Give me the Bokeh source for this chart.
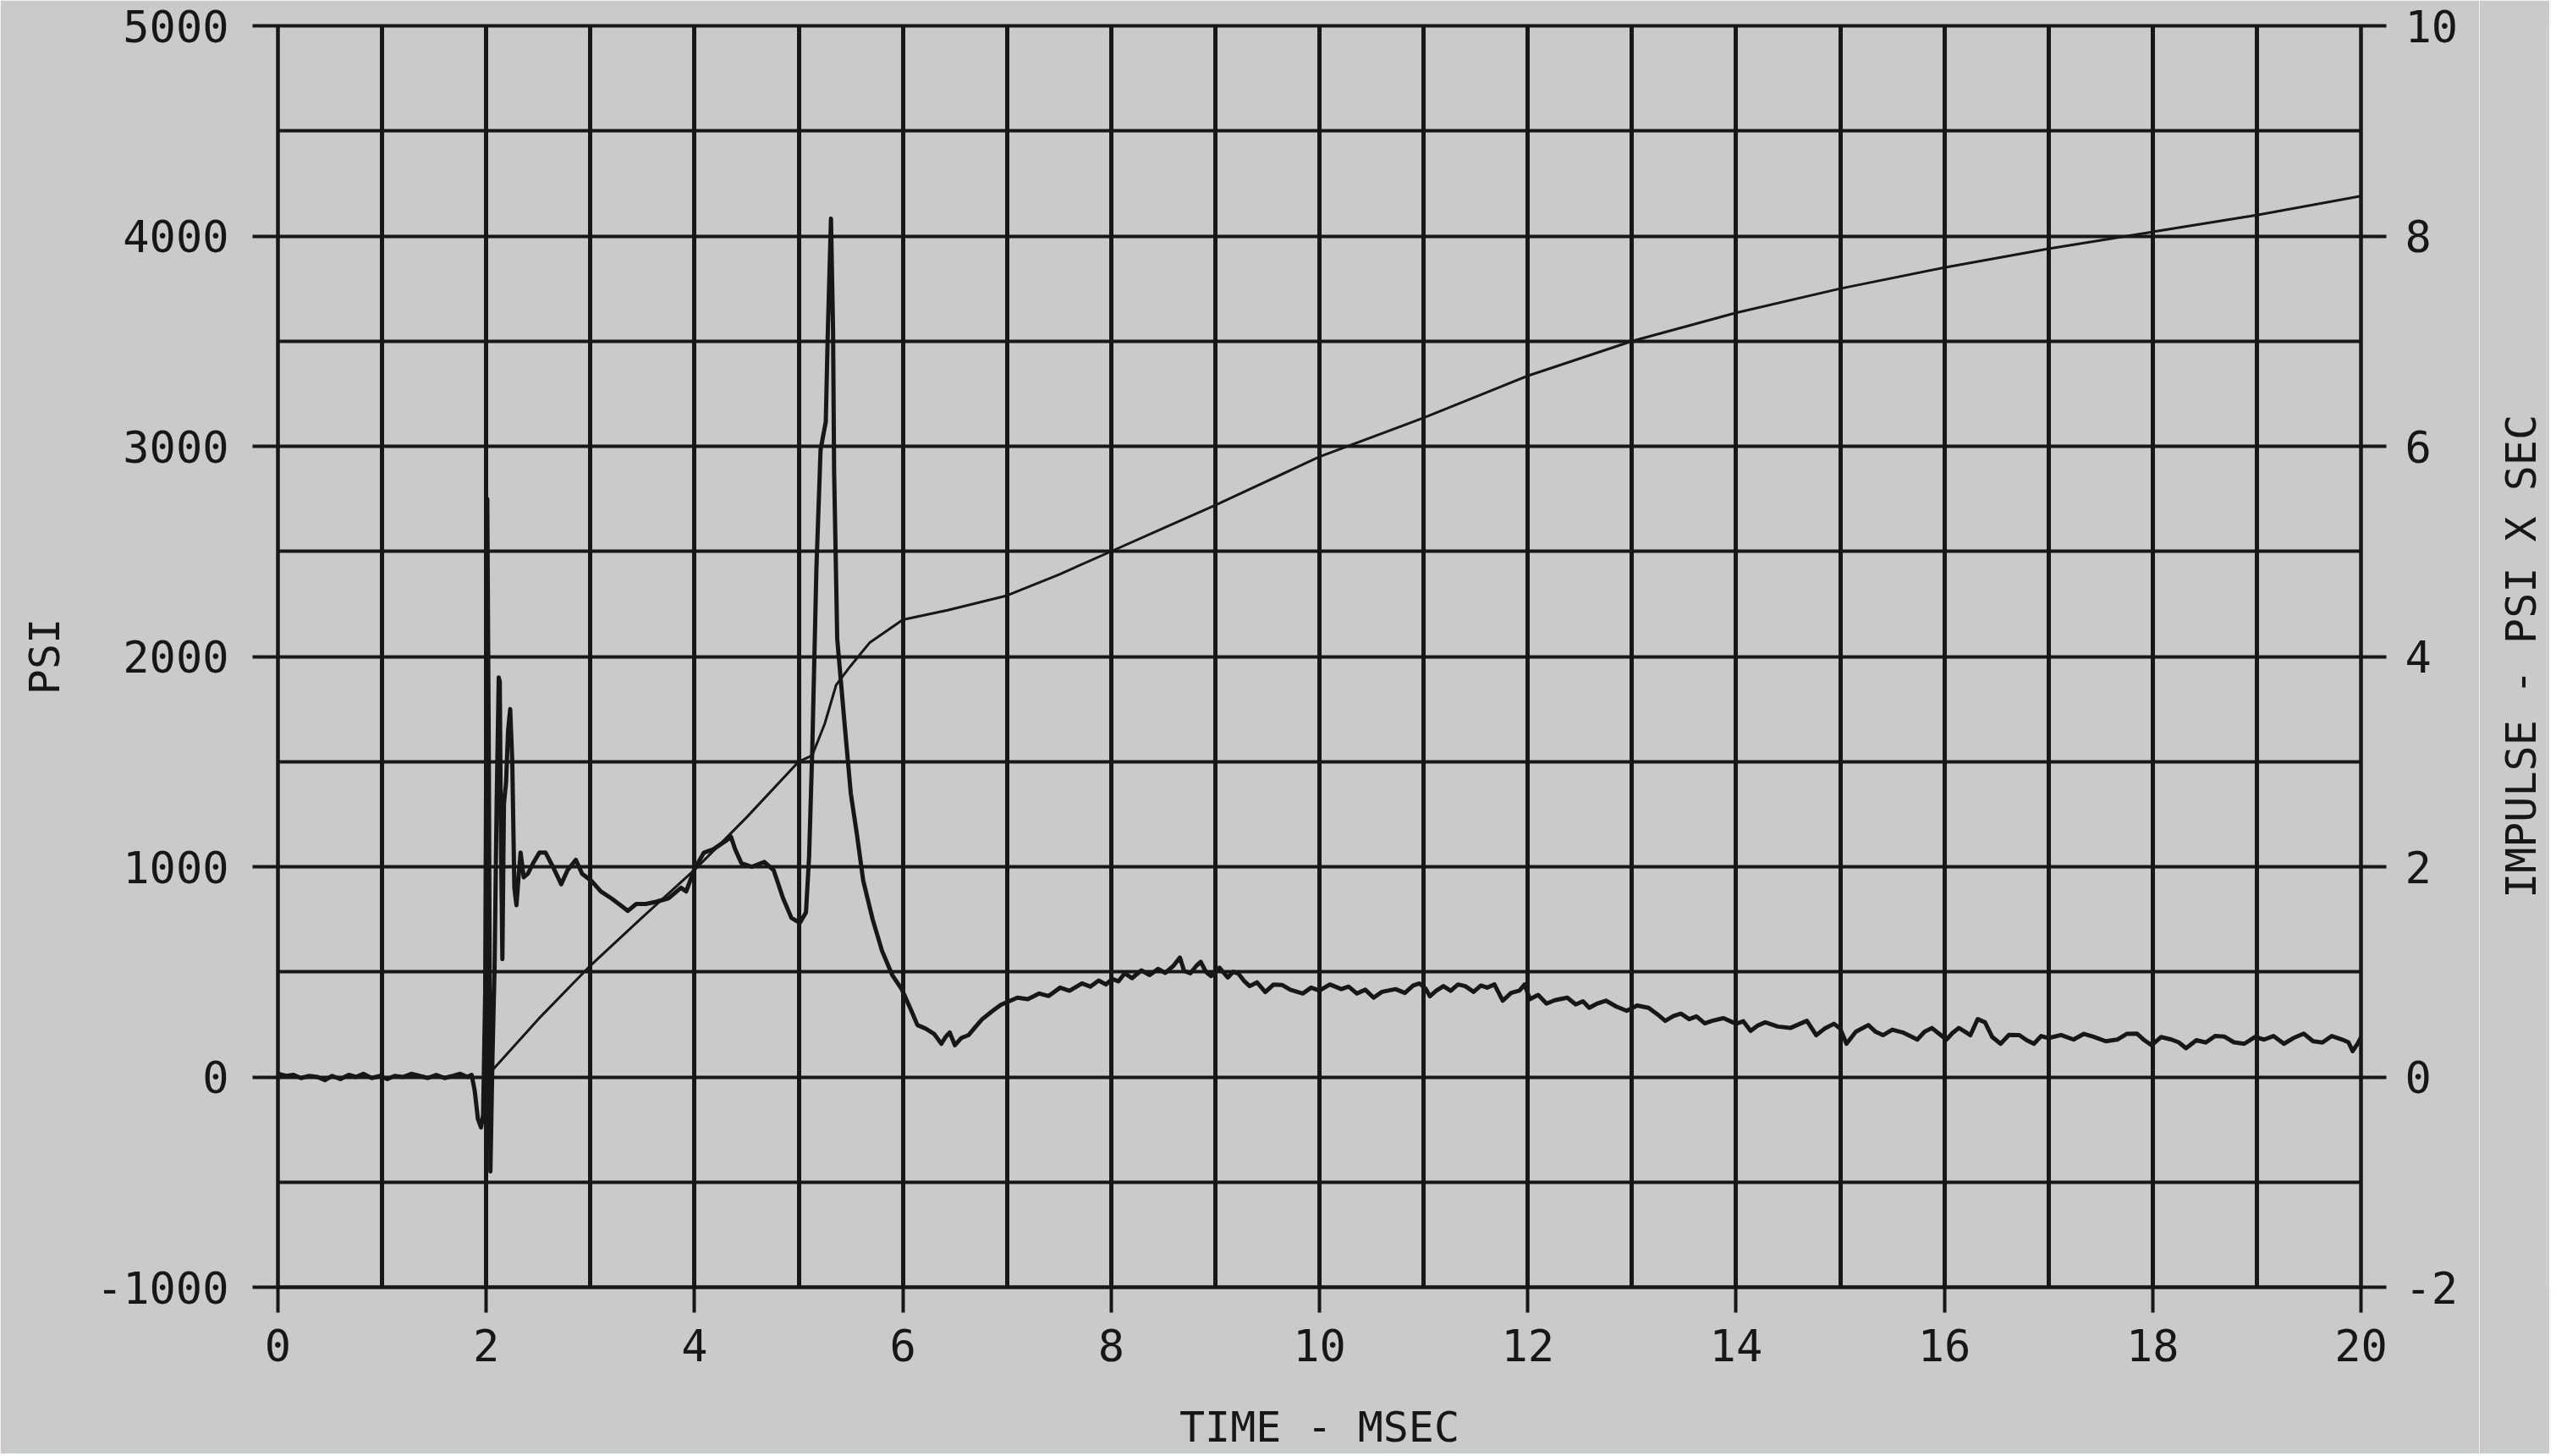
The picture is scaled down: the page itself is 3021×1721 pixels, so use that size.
from bokeh.plotting import figure
from bokeh.layouts import row
from bokeh.models import Range1d, LinearAxis, FixedTicker
from bokeh.embed import file_html
from bokeh.resources import INLINE

# ---------------- data ----------------
time_ms = [
    0.0, 0.08, 0.15, 0.22, 0.3, 0.38, 0.45, 0.52, 0.6, 0.68, 0.75, 0.82, 0.9, 0.98,
    1.05, 1.12, 1.2, 1.28, 1.36, 1.44, 1.52, 1.6, 1.68, 1.75, 1.82, 1.86,
    1.89, 1.92, 1.95, 1.97, 1.99, 2.01, 2.025, 2.04, 2.06, 2.08, 2.10, 2.12, 2.13,
    2.14, 2.155, 2.17, 2.19, 2.21, 2.23, 2.25, 2.27, 2.29, 2.31, 2.33, 2.36, 2.40,
    2.45, 2.51, 2.57, 2.64, 2.72, 2.78, 2.86, 2.92, 3.01, 3.10, 3.20, 3.29, 3.36,
    3.44, 3.53, 3.63, 3.75, 3.87, 3.92, 4.0, 4.09, 4.18, 4.30, 4.35, 4.39, 4.45,
    4.55, 4.67, 4.76, 4.85, 4.93, 5.01, 5.07, 5.10, 5.13, 5.17, 5.21, 5.26, 5.28,
    5.31, 5.33, 5.34, 5.37, 5.44, 5.50, 5.56, 5.62, 5.71, 5.80, 5.90, 5.99, 6.08,
    6.14, 6.22, 6.30, 6.37, 6.41, 6.45, 6.50, 6.56, 6.63, 6.70, 6.76, 6.85,
    6.94, 7.02, 7.10, 7.2, 7.31, 7.4, 7.51, 7.6, 7.72, 7.8, 7.88, 7.95, 8.01, 8.07,
    8.13, 8.2, 8.29, 8.37, 8.45, 8.52, 8.6, 8.66, 8.7, 8.76, 8.82, 8.86, 8.91, 8.96,
    9.04, 9.12, 9.17, 9.22, 9.28, 9.33, 9.4, 9.48, 9.56, 9.64, 9.72, 9.84, 9.92,
    10.0, 10.1, 10.21, 10.28, 10.36, 10.44, 10.52, 10.6, 10.73, 10.82, 10.9, 10.96,
    11.02, 11.06, 11.12, 11.19, 11.26, 11.33, 11.40, 11.48, 11.55, 11.61, 11.68,
    11.76, 11.84, 11.92, 11.97, 12.02, 12.1, 12.18, 12.26, 12.38, 12.46, 12.53,
    12.59, 12.67, 12.75, 12.85, 12.95, 13.05, 13.16, 13.24, 13.32, 13.4, 13.47,
    13.55, 13.62, 13.7, 13.77, 13.88, 14.0, 14.07, 14.14, 14.21, 14.28, 14.4, 14.52,
    14.6, 14.68, 14.77, 14.85, 14.94, 15.0, 15.06, 15.15, 15.27, 15.34, 15.41, 15.5,
    15.60, 15.67, 15.74, 15.81, 15.88, 15.95, 16.02, 16.08, 16.14, 16.2, 16.25,
    16.32, 16.39, 16.46, 16.54, 16.62, 16.72, 16.79, 16.86, 16.93, 17.0, 17.12,
    17.24, 17.34, 17.43, 17.55, 17.66, 17.75, 17.85, 17.92, 17.99, 18.08, 18.18,
    18.25, 18.32, 18.42, 18.51, 18.6, 18.69, 18.78, 18.88, 18.98, 19.07, 19.16,
    19.26, 19.35, 19.45, 19.54, 19.63, 19.72, 19.82, 19.88, 19.92, 19.97, 20.01,
]
pressure_psi = [
    15, 5, 10, -5, 5, 0, -15, 5, -10, 10, 0, 15, -5, 5,
    -10, 5, 0, 15, 5, -5, 10, -5, 5, 15, 0, 10,
    -67, -200, -240, -180, 400, 2750, 1500, -450, 100, 520, 1300, 1900, 1880,
    1200, 560, 1300, 1400, 1650, 1750, 1500, 900, 817, 950, 1067, 950, 967,
    1017, 1067, 1067, 1000, 917, 983, 1033, 967, 933, 883, 850, 817, 790,
    823, 823, 833, 850, 900, 883, 990, 1067, 1083, 1123, 1143, 1083, 1017,
    1000, 1023, 983, 850, 757, 733, 783, 1050, 1550, 2417, 2983, 3117, 3550,
    4083, 3550, 2883, 2083, 1683, 1350, 1150, 933, 750, 600, 483, 417, 317,
    247, 230, 205, 158, 190, 212, 151, 185, 199, 240, 274, 310,
    343, 360, 377, 370, 397, 385, 425, 410, 445, 430, 459, 440, 466, 455,
    493, 470, 507, 485, 514, 495, 530, 568, 505, 493, 530, 548, 500, 480,
    520, 473, 500, 493, 455, 432, 450, 404, 440, 438, 415, 397, 425,
    411, 440, 418, 430, 397, 415, 377, 405, 418, 400, 435, 445,
    420, 384, 410, 432, 410, 440, 432, 405, 435, 425, 440,
    363, 400, 411, 440, 370, 390, 349, 365, 377, 345, 360,
    329, 350, 363, 335, 315, 340, 329, 300, 267, 290, 301,
    275, 288, 255, 267, 280, 253, 265, 219, 245, 260, 240, 233,
    250, 267, 199, 230, 253, 230, 158, 215, 247, 215, 199, 225,
    212, 195, 178, 215, 233, 205, 178, 210, 233, 215, 199,
    275, 260, 190, 158, 200, 199, 175, 158, 195, 185, 200,
    178, 205, 192, 170, 178, 205, 206, 175, 151, 190, 178,
    165, 137, 175, 164, 195, 192, 165, 158, 190, 178, 195,
    158, 185, 206, 170, 164, 195, 178, 165, 123, 160, 199,
]

impulse_time_ms = [2.0, 2.5, 3.0, 3.5, 4.0, 4.5, 5.0, 5.13, 5.25, 5.36, 5.49, 5.68,
                   6.0, 6.43, 7.0, 7.5, 8.0, 8.5, 9.0, 10.0, 11.0, 12.0, 13.0,
                   14.0, 15.0, 16.0, 17.0, 18.0, 19.0, 20.0]
impulse_psi_sec = [0.0, 0.55, 1.06, 1.52, 1.97, 2.47, 3.0, 3.06, 3.36, 3.73, 3.9, 4.13,
                   4.35, 4.44, 4.58, 4.78, 5.0, 5.22, 5.44, 5.9, 6.27, 6.67, 7.0,
                   7.27, 7.5, 7.7, 7.88, 8.04, 8.2, 8.38]

x_ticks = [0, 2, 4, 6, 8, 10, 12, 14, 16, 18, 20]
x_tick_labels = ["0", "2", "4", "6", "8", "10", "12", "14", "16", "18", "20"]
psi_ticks = [-1000, 0, 1000, 2000, 3000, 4000, 5000]
psi_tick_labels = ["-1000", "0", "1000", "2000", "3000", "4000", "5000"]
imp_ticks = [-2, 0, 2, 4, 6, 8, 10]
imp_tick_labels = ["-2", "0", "2", "4", "6", "8", "10"]
x_grid = list(range(0, 21))
psi_grid = list(range(-1000, 5001, 500))

x_label = "TIME - MSEC"
left_label = "PSI"
right_label = "IMPULSE - PSI X SEC"

# ---------------- styling ----------------
BG = "#c9cacc"
INK = "#171717"
FONT = "DejaVu Sans Mono"
TICK_FS = "52px"
LABEL_FS = "50px"
H = 1718
TOP = 30
BOTTOM = 190

p = figure(width=2930, height=H, output_backend="svg", toolbar_location=None,
           x_range=Range1d(0, 20), y_range=Range1d(-1000, 5000),
           min_border_left=328, min_border_right=140, min_border_top=TOP,
           min_border_bottom=BOTTOM,
           background_fill_color=BG, border_fill_color=BG,
           outline_line_color=INK, outline_line_width=4)

p.extra_y_ranges = {"impulse": Range1d(-2, 10)}
right_axis = LinearAxis(y_range_name="impulse")
p.add_layout(right_axis, "right")

p.xaxis.ticker = FixedTicker(ticks=x_ticks)
p.xaxis.major_label_overrides = dict(zip(x_ticks, x_tick_labels))
p.yaxis[0].ticker = FixedTicker(ticks=psi_ticks)
p.yaxis[0].major_label_overrides = dict(zip(psi_ticks, psi_tick_labels))
right_axis.ticker = FixedTicker(ticks=imp_ticks)
right_axis.major_label_overrides = dict(zip(imp_ticks, imp_tick_labels))

for ax in [p.xaxis[0], p.yaxis[0], right_axis]:
    ax.axis_line_color = INK
    ax.axis_line_width = 4
    ax.major_tick_line_color = INK
    ax.major_tick_line_width = 4
    ax.major_tick_out = 30
    ax.major_tick_in = 0
    ax.minor_tick_out = 0
    ax.minor_tick_in = 0
    ax.major_label_text_font = FONT
    ax.major_label_text_font_size = TICK_FS
    ax.major_label_text_color = INK
    ax.axis_label_text_font = FONT
    ax.axis_label_text_font_size = LABEL_FS
    ax.axis_label_text_font_style = "normal"
    ax.axis_label_text_color = INK

p.xaxis.axis_label = x_label
p.xaxis.major_label_standoff = 19
p.xaxis.axis_label_standoff = 46
p.yaxis[0].axis_label = left_label
p.yaxis[0].major_label_standoff = 28
p.yaxis[0].axis_label_standoff = 29
right_axis.major_label_standoff = 22

p.xgrid.ticker = FixedTicker(ticks=x_grid)
p.ygrid.ticker = FixedTicker(ticks=psi_grid)
p.xgrid.grid_line_color = INK
p.xgrid.grid_line_width = 5
p.ygrid.grid_line_color = INK
p.ygrid.grid_line_width = 4

p.line(time_ms, pressure_psi, line_color=INK, line_width=5, line_join="round")
p.line(impulse_time_ms, impulse_psi_sec, y_range_name="impulse",
       line_color=INK, line_width=3, line_join="round")

# narrow companion figure that only carries the right-hand axis title
q = figure(width=83, height=H, output_backend="svg", toolbar_location=None,
           x_range=Range1d(0, 1), y_range=Range1d(-2, 10),
           min_border_left=80, min_border_right=0, min_border_top=TOP,
           min_border_bottom=BOTTOM,
           background_fill_color=BG, border_fill_color=BG,
           outline_line_color=None)
q.xaxis.visible = False
q.xgrid.visible = False
q.ygrid.visible = False
qa = q.yaxis[0]
qa.ticker = FixedTicker(ticks=[])
qa.axis_line_color = None
qa.major_tick_out = 0
qa.major_tick_in = 0
qa.minor_tick_out = 0
qa.minor_tick_in = 0
qa.axis_label = right_label
qa.axis_label_standoff = 2
qa.axis_label_text_font = FONT
qa.axis_label_text_font_size = LABEL_FS
qa.axis_label_text_font_style = "normal"
qa.axis_label_text_color = INK

layout = row(p, q, spacing=0)
open("out.html", "w").write(file_html(layout, INLINE))
